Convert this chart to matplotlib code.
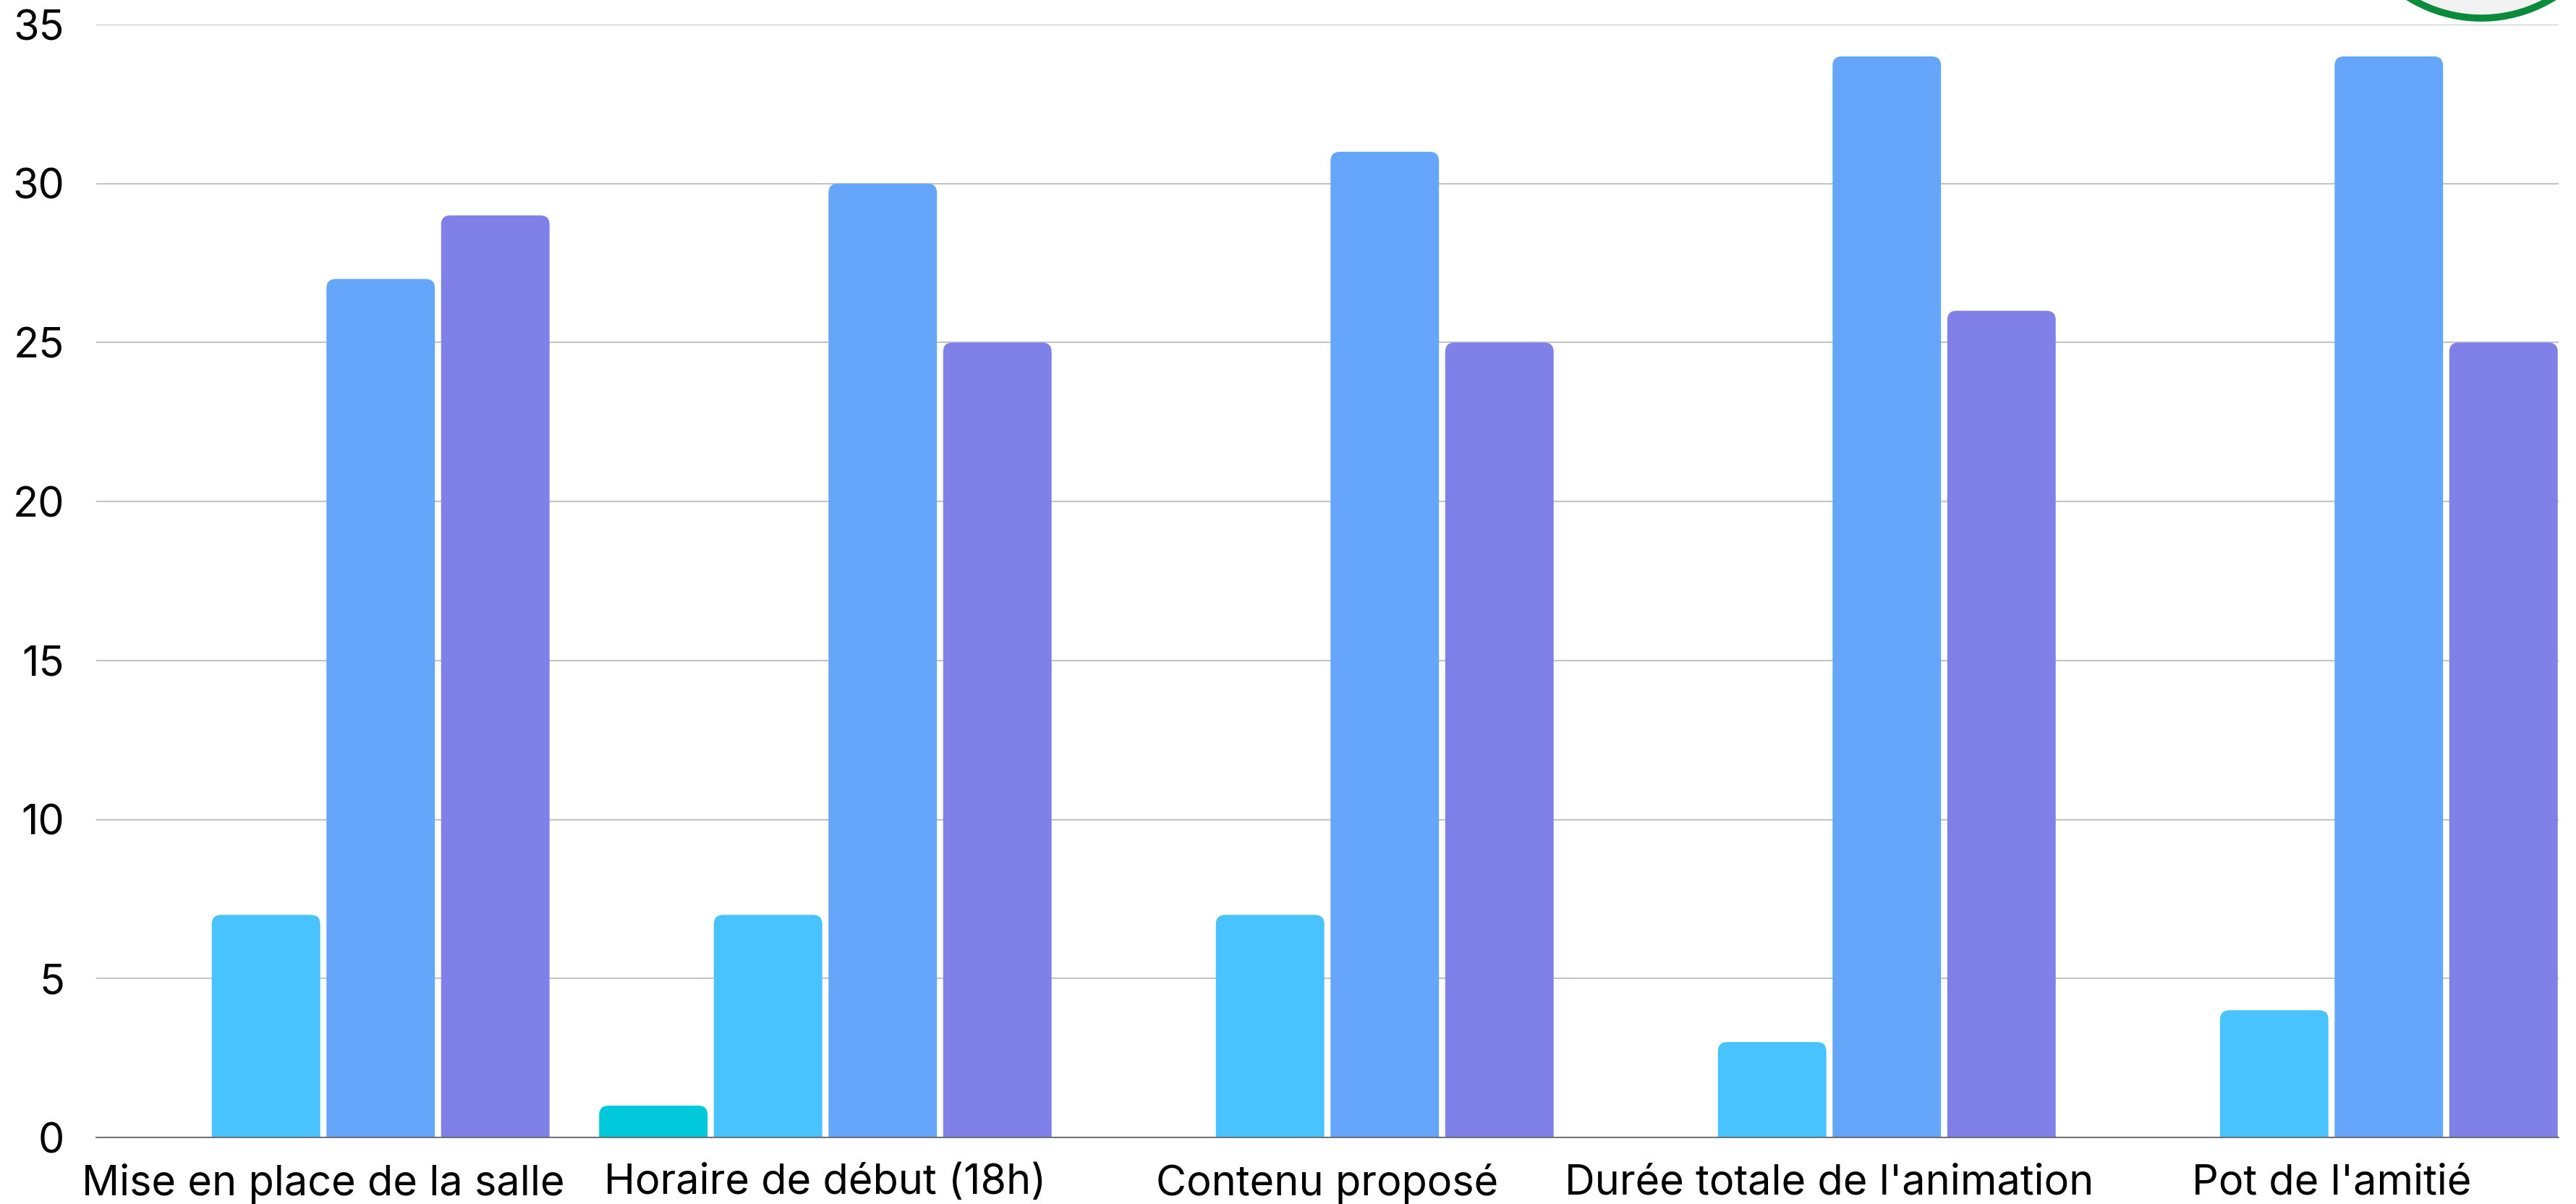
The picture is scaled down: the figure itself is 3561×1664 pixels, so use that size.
import numpy as np
import matplotlib
matplotlib.use("Agg")
import matplotlib.pyplot as plt
from matplotlib.path import Path
from matplotlib.patches import PathPatch, Ellipse

# ---- data ----
categories = ["Mise en place de la salle", "Horaire de début (18h)", "Contenu proposé",
              "Durée totale de l'animation", "Pot de l'amitié"]
serie_1 = [0, 1, 0, 0, 0]
serie_2 = [7, 7, 7, 3, 4]
serie_3 = [27, 30, 31, 34, 34]
serie_4 = [29, 25, 25, 26, 25]
series = [serie_1, serie_2, serie_3, serie_4]
colors = ["#00C9DB", "#48C3FE", "#66A6FA", "#7F81E8"]
yticks = [0, 5, 10, 15, 20, 25, 30, 35]

plt.rcParams['font.family'] = ['Inter', 'DejaVu Sans']

W, H = 3561, 1664
dpi = 100
fig = plt.figure(figsize=(W / dpi, H / dpi), dpi=dpi)
fig.patch.set_facecolor("white")

ax_l, ax_r, ax_b, ax_t = 133, 3537, 1572, 34
ax = fig.add_axes([ax_l / W, (H - ax_b) / H, (ax_r - ax_l) / W, (ax_b - ax_t) / H])

xmin, xmax = -0.4524, 4.4524
ymin, ymax = 0, 35
ax.set_xlim(xmin, xmax)
ax.set_ylim(ymin, ymax)

slot = 0.2284
bw = 0.216
x = np.arange(len(categories))

px_per_x = (ax_r - ax_l) / (xmax - xmin)
px_per_y = (ax_b - ax_t) / (ymax - ymin)
r_px = 13
rx = r_px / px_per_x
ry = r_px / px_per_y

for i, (vals, col) in enumerate(zip(series, colors)):
    bars = ax.bar(x + (i - 1.5) * slot, vals, width=bw, color=col, zorder=3)
    for p in bars.patches:
        x0, w, h = p.get_x(), p.get_width(), p.get_height()
        p.set_visible(False)
        if h <= 0:
            continue
        verts = [(x0, 0), (x0, h - ry), (x0, h), (x0 + rx, h),
                 (x0 + w - rx, h), (x0 + w, h), (x0 + w, h - ry),
                 (x0 + w, 0), (x0, 0)]
        codes = [Path.MOVETO, Path.LINETO, Path.CURVE3, Path.CURVE3,
                 Path.LINETO, Path.CURVE3, Path.CURVE3,
                 Path.LINETO, Path.CLOSEPOLY]
        ax.add_patch(PathPatch(Path(verts, codes), facecolor=col, edgecolor='none', zorder=3))

# grid & spines
ax.set_yticks(yticks)
ax.set_yticklabels([str(v) for v in yticks])
ax.yaxis.grid(True, color="#C4C4C4", linewidth=1.5, zorder=0)
ax.set_axisbelow(True)
for s in ["top", "right", "left"]:
    ax.spines[s].set_visible(False)
ax.spines["bottom"].set_color("#666666")
ax.spines["bottom"].set_linewidth(1.3)
ax.spines["bottom"].set_zorder(4)

ax.set_xticks(x)
ax.set_xticklabels(categories)
ax.tick_params(axis="x", length=0, pad=26, labelsize=41.5, labelcolor="black")
ax.tick_params(axis="y", length=0, pad=31.7, labelsize=41.5, labelcolor="black")

# partially visible logo in the top-right corner
cx, cy, r = 3430, -165, 190
logo = Ellipse((cx / W, 1 - cy / H), 2 * r / W, 2 * r / H, transform=fig.transFigure,
               facecolor="#F2F2F2", edgecolor="#0A8A3A", linewidth=7, zorder=10)
fig.patches.append(logo)

fig.savefig("out.png", dpi=dpi, facecolor="white")
